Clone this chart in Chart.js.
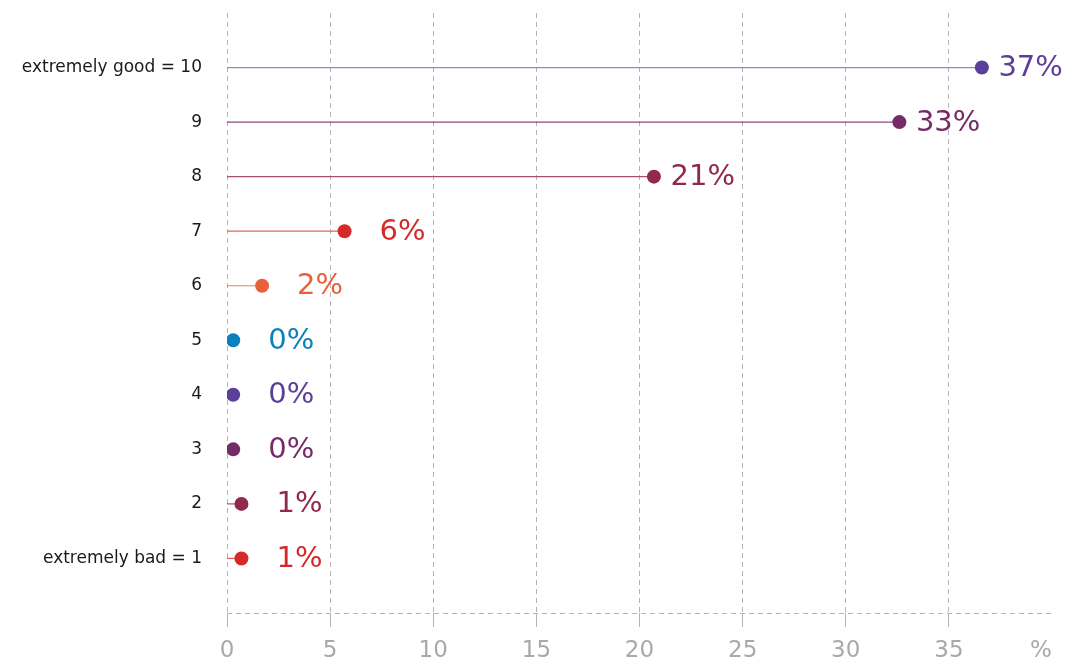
<!DOCTYPE html>
<html>
<head>
<meta charset="utf-8">
<script src="https://cdn.jsdelivr.net/npm/chart.js@4/dist/chart.umd.min.js"></script>
<style>
  html, body { margin: 0; padding: 0; background: #fff; }
  #wrap { width: 1082px; height: 663px; }
</style>
</head>
<body>
<div id="wrap"><canvas id="ratingChart"></canvas></div>
<script>
// ratings, bottom to top
const categories = ['extremely bad = 1', '2', '3', '4', '5', '6', '7', '8', '9', 'extremely good = 10'];
const shares = [0.7, 0.7, 0.3, 0.3, 0.3, 1.7, 5.7, 20.7, 32.6, 36.6];
const shareLabels = ['1%', '1%', '0%', '0%', '0%', '2%', '6%', '21%', '33%', '37%'];
const xTicks = [0, 5, 10, 15, 20, 25, 30, 35, 40];
const xUnit = '%';

const dotColors = ['#d42a2a', '#93284f', '#762a68', '#5c3f9a', '#0a80bf', '#e8613c', '#d42a2a', '#93284f', '#762a68', '#5c3f9a'];
const stemColors = ['#de5a5a', '#a8506f', '#8a4a80', '#9a87c2', '#0a80bf', '#ee8060', '#e06464', '#a8506f', '#8a4a80', '#9a87c2'];

const FONT = '"DejaVu Sans", sans-serif';
const GRID = '#b4b4b4';
const TICK_GREY = '#a9a9a9';

// stems: one short line per rating
const stems = categories.map((c, i) => ({
    type: 'line',
    data: [{ x: 0, y: i + 1 }, { x: shares[i], y: i + 1 }],
    borderColor: stemColors[i],
    borderWidth: 1.2,
    pointRadius: 0,
    pointHoverRadius: 0,
    order: 2
}));

const dots = {
    type: 'scatter',
    data: shares.map((v, i) => ({ x: v, y: i + 1 })),
    pointRadius: 7,
    pointHoverRadius: 7,
    pointBackgroundColor: dotColors,
    pointBorderWidth: 0,
    order: 1
};

// value text to the right of each dot, plus the unit at the end of the x axis
const valueLabels = {
    id: 'valueLabels',
    afterDatasetsDraw(chart) {
        const meta = chart.getDatasetMeta(chart.data.datasets.length - 1);
        const ctx = chart.ctx;
        ctx.save();
        ctx.font = '400 29px ' + FONT;
        ctx.textAlign = 'right';
        ctx.textBaseline = 'middle';
        meta.data.forEach((pt, i) => {
            ctx.fillStyle = dotColors[i];
            ctx.fillText(shareLabels[i], pt.x + 81, pt.y + 1);
        });

        const xs = chart.scales.x;
        ctx.font = '400 23px ' + FONT;
        ctx.textAlign = 'center';
        ctx.fillStyle = TICK_GREY;
        ctx.fillText(xUnit, xs.getPixelForValue(xTicks[xTicks.length - 1]) - 11, xs.top + 38);
        ctx.restore();
    }
};

new Chart(document.getElementById('ratingChart'), {
    type: 'scatter',
    data: { datasets: [...stems, dots] },
    options: {
        responsive: true,
        maintainAspectRatio: false,
        animation: false,
        layout: { padding: { top: 13, right: 30, left: 0, bottom: 0 } },
        plugins: {
            legend: { display: false },
            tooltip: { enabled: false }
        },
        scales: {
            x: {
                type: 'linear',
                min: 0,
                max: 40,
                afterBuildTicks: (scale) => { scale.ticks = xTicks.map(v => ({ value: v })); },
                afterFit: (scale) => { scale.height = 50; },
                border: { display: false, dash: [5, 4] },
                grid: {
                    color: (c) => (c.tick && c.tick.value === 40 ? 'rgba(0,0,0,0)' : GRID),
                    lineWidth: 1,
                    tickLength: 14,
                    tickColor: (c) => (c.tick && c.tick.value === 40 ? 'rgba(0,0,0,0)' : GRID),
                    tickBorderDash: []
                },
                ticks: {
                    color: TICK_GREY,
                    font: { family: FONT, size: 23 },
                    padding: 10,
                    maxRotation: 0,
                    callback: (v) => (v === 40 ? '' : v)
                }
            },
            y: {
                type: 'linear',
                min: 0,
                max: 11,
                afterBuildTicks: (scale) => {
                    scale.ticks = [0, ...categories.map((c, i) => i + 1), 11].map(v => ({ value: v }));
                },
                afterFit: (scale) => {
                    scale.width = 227;
                    scale.paddingTop = 0;
                    scale.paddingBottom = 0;
                },
                border: { display: false, dash: [5, 4] },
                grid: {
                    drawTicks: false,
                    color: (c) => (c.tick && c.tick.value === 0 ? GRID : 'rgba(0,0,0,0)'),
                    lineWidth: 1
                },
                ticks: {
                    color: '#1a1a1a',
                    font: { family: FONT, size: 17 },
                    padding: 25,
                    autoSkip: false,
                    callback: (v) => categories[v - 1] || ''
                }
            }
        }
    },
    plugins: [valueLabels]
});
</script>
</body>
</html>
